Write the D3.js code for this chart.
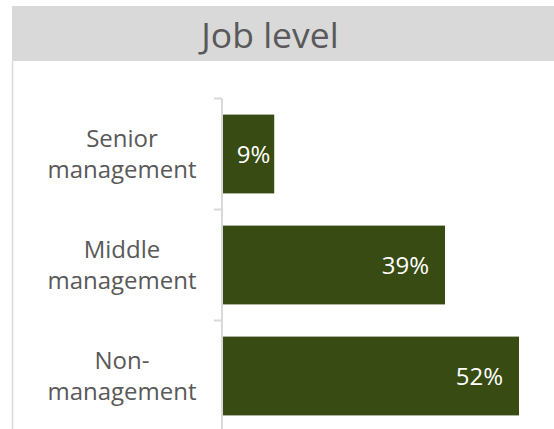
<!DOCTYPE html>
<html>
<head>
<meta charset="utf-8">
<script src="https://cdn.jsdelivr.net/npm/d3@7"></script>
<style>
  html, body { margin: 0; padding: 0; background: #ffffff; }
  svg { display: block; font-family: "Open Sans", sans-serif; }
</style>
</head>
<body>
<svg id="chart" width="554" height="429"></svg>
<script>
const title = "Job level";
const categories = [["Senior", "management"], ["Middle", "management"], ["Non-", "management"]];
const values = [9, 39, 52];
const labels = ["9%", "39%", "52%"];

const svg = d3.select("#chart");
const W = 554, H = 429;

// header band
svg.append("rect").attr("x", 12).attr("y", 6).attr("width", W - 12).attr("height", 55).attr("fill", "#d9d9d9");
// left border
svg.append("line").attr("x1", 12.5).attr("x2", 12.5).attr("y1", 61).attr("y2", H)
  .attr("stroke", "#d9d9d9").attr("stroke-width", 1.5);

svg.append("text").attr("x", 270).attr("y", 48).attr("text-anchor", "middle")
  .attr("font-size", 35.5).attr("fill", "#595959").text(title);

const x = d3.scaleLinear().domain([0, 60]).range([223, 223 + 296 * 60 / 52]);
const y = d3.scaleBand().domain(d3.range(categories.length)).range([98.5, 431.5])
  .paddingInner(0.29).paddingOuter(0.145);

// bars
svg.append("g").selectAll("rect").data(values).join("rect")
  .attr("x", x(0)).attr("y", (d, i) => y(i))
  .attr("width", d => x(d) - x(0)).attr("height", y.bandwidth())
  .attr("fill", "#374b12");

// axis line and ticks
const step = y.step();
const ax = svg.append("g").attr("stroke", "#d9d9d9").attr("stroke-width", 2);
ax.append("line").attr("x1", 222).attr("x2", 222).attr("y1", 98.5).attr("y2", H);
categories.forEach((c, i) => {
  const ty = y(i) - y.paddingInner() * step / 2;
  ax.append("line").attr("x1", 214).attr("x2", 222).attr("y1", ty).attr("y2", ty);
});

// category labels
const lh = 31;
categories.forEach((lines, i) => {
  const cy = y(i) + y.bandwidth() / 2;
  const t = svg.append("text").attr("text-anchor", "middle").attr("font-size", 24).attr("fill", "#595959");
  lines.forEach((ln, j) => {
    t.append("tspan").attr("x", 122)
      .attr("y", cy + (j - (lines.length - 1) / 2) * lh + 8.2).text(ln);
  });
});

// data labels
svg.append("g").selectAll("text").data(values).join("text")
  .attr("x", d => x(d) - ((x(d) - x(0)) < 80 ? 4 : 16))
  .attr("y", (d, i) => y(i) + y.bandwidth() / 2 + 8.5)
  .attr("text-anchor", "end").attr("font-size", 24).attr("fill", "#ffffff")
  .text((d, i) => labels[i]);
</script>
</body>
</html>
